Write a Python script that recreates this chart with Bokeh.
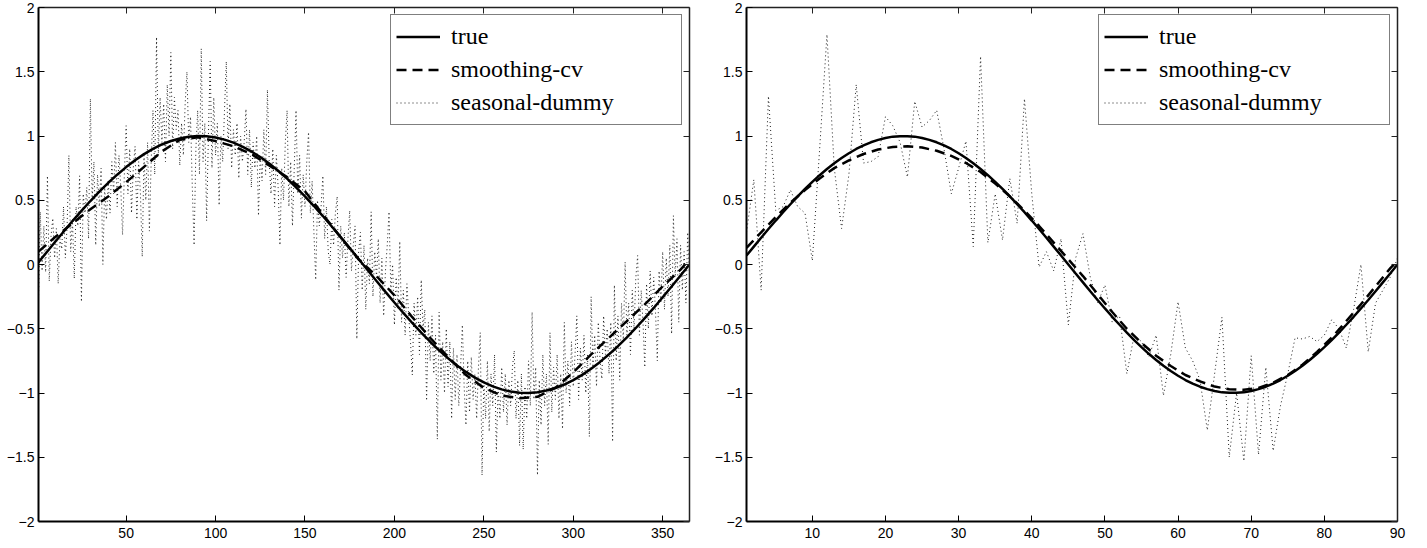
from bokeh.plotting import figure
from bokeh.models import Range1d, LinearAxis, FixedTicker, Legend, LegendItem, CustomJSTickFormatter
from bokeh.layouts import row
from bokeh.embed import file_html
from bokeh.resources import INLINE

# ---------------- data: left panel (daily, 365 days) ----------------
left_true_x = [1, 5, 10, 15, 20, 25, 30, 35, 40, 45, 50, 55, 60, 65, 70, 75, 80, 85, 90, 95,
               100, 105, 110, 115, 120, 125, 130, 135, 140, 145, 150, 155, 160, 165, 170, 175,
               180, 185, 190, 195, 200, 205, 210, 215, 220, 225, 230, 235, 240, 245, 250, 255,
               260, 265, 270, 275, 280, 285, 290, 295, 300, 305, 310, 315, 320, 325, 330, 335,
               340, 345, 350, 355, 360, 365]
left_true_y = [0.017, 0.086, 0.171, 0.255, 0.338, 0.417, 0.494, 0.567, 0.636, 0.699, 0.758, 0.811,
               0.859, 0.900, 0.934, 0.961, 0.981, 0.994, 1.000, 0.998, 0.989, 0.972, 0.948, 0.918,
               0.880, 0.836, 0.786, 0.730, 0.668, 0.601, 0.530, 0.455, 0.377, 0.296, 0.213, 0.129,
               0.043, -0.043, -0.129, -0.213, -0.296, -0.377, -0.455, -0.530, -0.601, -0.668,
               -0.730, -0.786, -0.836, -0.880, -0.918, -0.948, -0.972, -0.989, -0.998, -1.000,
               -0.994, -0.981, -0.961, -0.934, -0.900, -0.859, -0.811, -0.758, -0.699, -0.636,
               -0.567, -0.494, -0.417, -0.338, -0.255, -0.171, -0.086, 0.000]

left_smooth_x = [1, 10, 20, 30, 40, 50, 60, 70, 80, 90, 100, 110, 120, 130, 140, 150, 160, 170,
                 180, 190, 200, 210, 220, 230, 240, 250, 260, 270, 280, 290, 300, 310, 320, 330,
                 340, 350, 360, 365]
left_smooth_y = [0.10, 0.21, 0.32, 0.43, 0.53, 0.64, 0.76, 0.88, 0.97, 0.99, 0.96, 0.92, 0.86,
                 0.77, 0.68, 0.57, 0.39, 0.21, 0.04, -0.09, -0.24, -0.41, -0.57, -0.72, -0.86,
                 -0.96, -1.02, -1.04, -1.03, -0.96, -0.84, -0.70, -0.57, -0.44, -0.31, -0.17,
                 -0.04, 0.04]

left_dummy_y = [
    -0.27, 0.41, -0.05, 0.30, -0.06, 0.69, -0.13, 0.22, 0.36, 0.05,
    0.28, -0.15, 0.20, 0.12, 0.45, 0.05, 0.30, 0.85, 0.10, 0.35,
    -0.11, 0.45, 0.30, 0.69, -0.29, 0.55, 0.40, 0.60, 0.20, 1.29,
    0.50, 0.80, 0.15, 0.70, 0.45, 0.75, 0.00, 0.60, 0.35, 0.65,
    0.40, 0.80, 0.55, 0.95, 0.45, 0.85, 0.60, 0.23, 0.70, 1.08,
    0.55, 0.90, 0.40, 0.75, 0.92, 0.35, 0.80, 0.55, 0.06, 0.85,
    0.50, 0.95, 0.26, 0.80, 1.20, 0.70, 1.77, 0.85, 1.30, 0.95,
    1.25, 0.80, 1.40, 1.00, 1.65, 0.90, 1.30, 1.05, 1.20, 0.77,
    1.10, 0.85, 1.25, 1.50, 0.95, 1.15, 0.60, 0.15, 0.90, 1.20,
    0.70, 1.68, 0.80, 1.10, 0.34, 1.00, 1.58, 0.75, 1.30, 0.85,
    1.10, 0.46, 1.00, 0.80, 1.20, 1.58, 0.90, 1.25, 0.75, 1.05,
    0.85, 1.10, 0.67, 1.00, 0.80, 0.95, 1.21, 0.70, 1.05, 0.60,
    0.95, 0.75, 1.00, 0.38, 0.85, 0.65, 1.05, 0.70, 1.36, 0.80,
    0.55, 0.90, 0.45, 0.85, 0.60, 0.15, 0.75, 0.50, 0.95, 1.20,
    0.45, 0.80, 0.30, 0.75, 1.20, 0.55, 0.85, 0.36, 0.70, 0.45,
    0.80, 1.03, 0.40, 0.65, 0.25, -0.12, 0.50, 0.30, 0.45, 0.69,
    0.20, 0.45, 0.10, 0.00, 0.35, 0.15, 0.40, 0.53, -0.20, 0.30,
    0.05, 0.25, -0.10, 0.20, 0.42, -0.05, 0.15, 0.30, -0.58, 0.10,
    0.25, -0.20, 0.15, -0.35, 0.05, -0.15, 0.41, -0.25, 0.10, -0.10,
    0.20, -0.30, 0.05, -0.40, -0.05, 0.15, 0.41, -0.20, 0.00, -0.47,
    -0.10, -0.35, 0.18, -0.45, -0.20, -0.55, -0.15, -0.40, -0.60, -0.86,
    -0.30, -0.55, -0.25, -0.70, -0.12, -0.50, -0.35, -1.06, -0.45, -0.75,
    -0.40, -0.85, -0.55, -1.36, -0.37, -0.90, -0.60, -1.00, -0.50, -0.95,
    -0.60, -1.20, -0.65, -1.05, -0.70, -1.10, -0.80, -0.47, -0.95, -1.25,
    -0.75, -1.15, -0.72, -1.05, -0.85, -1.20, -0.80, -0.53, -1.64, -0.90,
    -1.20, -0.75, -1.30, -0.85, -1.10, -0.70, -1.46, -0.95, -1.20, -0.80,
    -1.15, -0.85, -1.25, -0.90, -1.10, -0.80, -0.67, -1.20, -0.90, -1.41,
    -0.85, -1.44, -0.95, -1.20, -0.75, -1.10, -0.37, -1.05, -0.80, -1.64,
    -0.90, -1.25, -0.70, -1.10, -0.85, -1.40, -0.53, -1.15, -0.80, -1.05,
    -0.70, -1.20, -0.85, -1.28, -0.45, -1.00, -0.75, -1.10, -0.60, -0.95,
    -0.70, -0.40, -1.05, -0.65, -0.90, -0.55, -1.00, -0.70, -1.34, -0.25,
    -0.80, -0.55, -0.95, -0.45, -0.75, -0.89, -0.40, -0.70, -0.50, -0.85,
    -0.45, -1.38, -0.16, -0.75, -0.40, -0.90, -0.30, -0.60, 0.02, -0.55,
    -0.30, -0.70, -0.20, -0.50, -0.10, 0.07, -0.55, -0.20, -0.45, -0.80,
    -0.15, -0.50, -0.05, -0.40, -0.10, -0.37, -0.75, -0.05, -0.30, 0.10,
    -0.35, 0.05, -0.25, 0.15, -0.54, 0.38, -0.10, 0.20, -0.45, 0.15,
    -0.20, 0.10, -0.30, 0.25, -0.10,
]
left_dummy_x = list(range(1, len(left_dummy_y) + 1))

# ---------------- data: right panel (90 days) ----------------
right_true_y = [0.070, 0.139, 0.208, 0.276, 0.342, 0.407, 0.469, 0.530, 0.588, 0.643,
                0.695, 0.743, 0.788, 0.829, 0.866, 0.899, 0.927, 0.951, 0.970, 0.985,
                0.995, 0.999, 0.999, 0.995, 0.985, 0.970, 0.951, 0.927, 0.899, 0.866,
                0.829, 0.788, 0.743, 0.695, 0.643, 0.588, 0.530, 0.469, 0.407, 0.342,
                0.276, 0.208, 0.139, 0.070, 0.000, -0.070, -0.139, -0.208, -0.276, -0.342,
                -0.407, -0.469, -0.530, -0.588, -0.643, -0.695, -0.743, -0.788, -0.829, -0.866,
                -0.899, -0.927, -0.951, -0.970, -0.985, -0.995, -0.999, -0.999, -0.995, -0.985,
                -0.970, -0.951, -0.927, -0.899, -0.866, -0.829, -0.788, -0.743, -0.695, -0.643,
                -0.588, -0.530, -0.469, -0.407, -0.342, -0.276, -0.208, -0.139, -0.070, 0.000]
right_true_x = list(range(1, len(right_true_y) + 1))

right_smooth_x = [1, 3, 5, 7, 9, 11, 13, 15, 17, 19, 21, 23, 25, 27, 29, 31, 33, 35, 37, 39,
                  41, 43, 45, 47, 49, 51, 53, 55, 57, 59, 61, 63, 65, 67, 69, 71, 73, 75, 77,
                  79, 81, 83, 85, 87, 89, 90]
right_smooth_y = [0.13, 0.25, 0.37, 0.48, 0.58, 0.67, 0.75, 0.81, 0.86, 0.895, 0.915, 0.92,
                  0.91, 0.885, 0.845, 0.79, 0.72, 0.63, 0.53, 0.42, 0.30, 0.17, 0.04, -0.09,
                  -0.23, -0.37, -0.50, -0.61, -0.71, -0.79, -0.86, -0.91, -0.95, -0.97, -0.975,
                  -0.96, -0.92, -0.86, -0.78, -0.68, -0.57, -0.44, -0.31, -0.17, -0.03, 0.03]

right_dummy_y = [0.25, 0.66, -0.20, 1.31, 0.42, 0.45, 0.58, 0.45, 0.40, 0.03,
                 0.90, 1.79, 0.75, 0.28, 0.70, 1.40, 0.79, 0.80, 0.84, 1.15,
                 1.08, 0.95, 0.68, 1.27, 1.07, 1.12, 1.20, 0.90, 0.55, 0.75,
                 0.96, 0.14, 1.62, 0.17, 0.55, 0.19, 0.67, 0.32, 1.29, 0.55,
                 -0.02, 0.10, -0.05, 0.20, -0.47, 0.05, 0.24, -0.10, -0.30, -0.16,
                 -0.45, -0.40, -0.85, -0.55, -0.60, -0.72, -0.55, -1.02, -0.70, -0.29,
                 -0.65, -0.75, -0.90, -1.29, -0.85, -0.41, -1.50, -1.00, -1.53, -0.71,
                 -1.48, -0.80, -1.45, -1.10, -0.85, -0.57, -0.58, -0.56, -0.60, -0.55,
                 -0.43, -0.50, -0.65, -0.35, 0.00, -0.68, -0.30, -0.20, -0.10, 0.05]
right_dummy_x = list(range(1, len(right_dummy_y) + 1))

labels = ["true", "smoothing-cv", "seasonal-dummy"]
left_xticks = [50, 100, 150, 200, 250, 300, 350]
right_xticks = [10, 20, 30, 40, 50, 60, 70, 80, 90]
yticks = [-2, -1.5, -1, -0.5, 0, 0.5, 1, 1.5, 2]


def make_panel(tx, ty, sx, sy, dx, dy, xmax, xticks, border_left, border_right):
    p = figure(frame_width=651, frame_height=514,
               x_range=Range1d(1, xmax), y_range=Range1d(-2, 2),
               output_backend="svg", toolbar_location=None,
               min_border_top=7, min_border_left=border_left, min_border_bottom=0,
               min_border_right=border_right)
    p.grid.visible = False
    p.outline_line_color = None
    p.background_fill_color = "white"
    p.border_fill_color = "white"

    fmt = CustomJSTickFormatter(code="return tick < 0 ? '\u2212' + String(-tick) : String(tick);")
    for ax in (p.xaxis[0], p.yaxis[0]):
        ax.major_tick_in = 6
        ax.major_tick_out = 0
        ax.minor_tick_line_color = None
        ax.axis_line_color = "black"
        ax.axis_line_width = 2
        ax.major_tick_line_color = "black"
        ax.major_tick_line_width = 1
        ax.major_label_text_font = "Liberation Sans"
        ax.major_label_text_font_size = "14px"
        ax.major_label_text_color = "black"
        ax.formatter = fmt
    p.xaxis[0].ticker = FixedTicker(ticks=xticks)
    p.yaxis[0].ticker = FixedTicker(ticks=yticks)
    p.xaxis[0].major_label_standoff = 6
    p.yaxis[0].major_label_standoff = 4

    top = LinearAxis(ticker=FixedTicker(ticks=xticks))
    right = LinearAxis(ticker=FixedTicker(ticks=yticks))
    for ax in (top, right):
        ax.major_tick_in = 6
        ax.major_tick_out = 0
        ax.minor_tick_line_color = None
        ax.axis_line_color = "#222222"
        ax.axis_line_width = 1.5
        ax.major_tick_line_color = "#222222"
        ax.major_label_text_font_size = "1px"
        ax.major_label_text_color = None
        ax.major_label_standoff = 0
    p.add_layout(top, "above")
    p.add_layout(right, "right")

    r_dummy = p.line(dx, dy, line_color="#1e1e1e", line_width=1, line_dash="1 3")
    r_true = p.line(tx, ty, line_color="black", line_width=2.5)
    r_smooth = p.line(sx, sy, line_color="black", line_width=2.5, line_dash="10 6")

    legend = Legend(items=[LegendItem(label=labels[0], renderers=[r_true]),
                           LegendItem(label=labels[1], renderers=[r_smooth]),
                           LegendItem(label=labels[2], renderers=[r_dummy])],
                    location="top_right", margin=7, padding=5, spacing=0,
                    glyph_width=44, glyph_height=33, label_height=33,
                    label_width=225, label_standoff=11,
                    label_text_font="Liberation Serif", label_text_font_size="24px",
                    label_text_color="black",
                    border_line_color="black", border_line_width=1.5,
                    background_fill_color="white", background_fill_alpha=1)
    p.add_layout(legend)
    return p


p1 = make_panel(left_true_x, left_true_y, left_smooth_x, left_smooth_y,
                left_dummy_x, left_dummy_y, 365, left_xticks, 38, 21)
p2 = make_panel(right_true_x, right_true_y, right_smooth_x, right_smooth_y,
                right_dummy_x, right_dummy_y, 90, right_xticks, 36, 12)

layout = row(p1, p2)
open("out.html", "w").write(file_html(layout, INLINE))
